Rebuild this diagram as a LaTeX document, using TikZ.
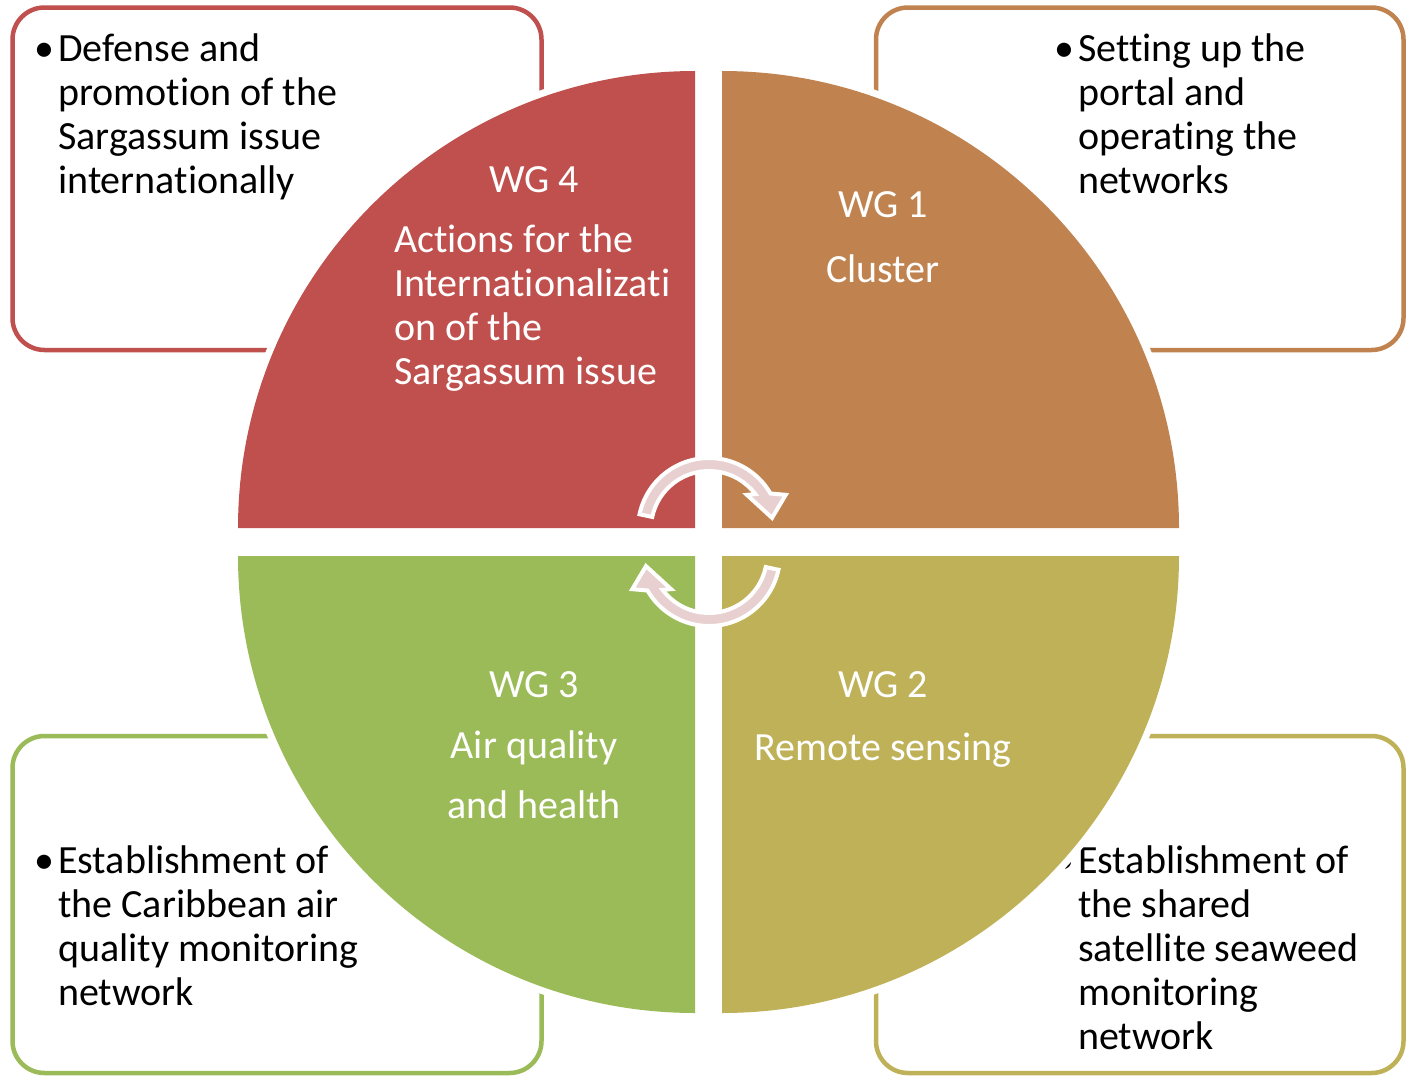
\documentclass[tikz,border=0pt]{standalone}
\usepackage{fontspec}
\setmainfont{Carlito}[Ligatures={NoCommon}]
\definecolor{cred}{HTML}{C0504D}
\definecolor{corange}{HTML}{C0834F}
\definecolor{colive}{HTML}{BFB158}
\definecolor{cgreen}{HTML}{9BBB59}
\definecolor{cpink}{HTML}{E8D0D1}
\tikzset{
  boxframe/.style={draw=#1, line width=4.5pt, rounded corners=32pt, fill=white},
  btext/.style={inner sep=0pt, anchor=base west, text=black, font=\fontsize{40}{44}\selectfont},
  bdot/.style={inner sep=0pt, anchor=base, text=black, font=\fontsize{40}{44}\selectfont},
  wtext/.style={inner sep=0pt, anchor=base, text=white, font=\fontsize{40}{44}\selectfont},
  wltext/.style={inner sep=0pt, anchor=base west, text=white, font=\fontsize{40}{44}\selectfont},
  backing/.style={fill=white},
  cycarrow/.style={fill=cpink, draw=white, line width=4pt, line join=miter}
}
\begin{document}
\begin{tikzpicture}[x=1pt,y=-1pt]
\useasboundingbox (0,0) rectangle (1408,1076);
\fill[white] (0,0) rectangle (1408,1076);
% corner boxes
\draw[boxframe=cred] (12.5,7.5) rectangle (541.5,350);
\draw[boxframe=corange] (876,7.5) rectangle (1403.5,350);
\draw[boxframe=cgreen] (12.5,736) rectangle (541.5,1073);
\draw[boxframe=colive] (876,736) rectangle (1403.5,1073);
% box texts
\node[bdot] (tlb) at (44,61) {•};
\node[btext] (tl1) at (58,61) {Defense and};
\node[btext] (tl2) at (58,105) {promotion of the};
\node[btext] (tl3) at (58,149) {Sargassum issue};
\node[btext] (tl4) at (58,193) {internationally};
\node[bdot] (trb) at (1064,61) {•};
\node[btext] (tr1) at (1078,61) {Setting up the};
\node[btext] (tr2) at (1078,105) {portal and};
\node[btext] (tr3) at (1078,149) {operating the};
\node[btext] (tr4) at (1078,193) {networks};
\node[bdot] (blb) at (44,873) {•};
\node[btext] (bl1) at (58,873) {Establishment of};
\node[btext] (bl2) at (58,917) {the Caribbean air};
\node[btext] (bl3) at (58,961) {quality monitoring};
\node[btext] (bl4) at (58,1005) {network};
\node[bdot] (brb) at (1064,873) {•};
\node[btext] (br1) at (1078,873) {Establishment of};
\node[btext] (br2) at (1078,917) {the shared};
\node[btext] (br3) at (1078,961) {satellite seaweed};
\node[btext] (br4) at (1078,1005) {monitoring};
\node[btext] (br5) at (1078,1049) {network};
% white backings for quadrants
\path[backing] (695,528) -- (231,528) arc[start angle=180,end angle=270,radius=464] -- cycle;
\path[backing] (722,528) -- (722,64) arc[start angle=270,end angle=360,radius=464] -- cycle;
\path[backing] (722,556) -- (1186,556) arc[start angle=0,end angle=90,radius=464] -- cycle;
\path[backing] (695,556) -- (695,1020) arc[start angle=90,end angle=180,radius=464] -- cycle;
% quadrants
\fill[cred] (695,528) -- (238,528) arc[start angle=180,end angle=270,radius=457] -- cycle;
\fill[corange] (722,528) -- (722,71) arc[start angle=270,end angle=360,radius=457] -- cycle;
\fill[colive] (722,556) -- (1179,556) arc[start angle=0,end angle=90,radius=457] -- cycle;
\fill[cgreen] (695,556) -- (695,1013) arc[start angle=90,end angle=180,radius=457] -- cycle;
% quadrant texts
\node[wtext] (q4a) at (534,192) {WG 4};
\node[wltext] (q4b) at (394,252) {Actions for the};
\node[wltext] (q4c) at (394,296) {Internationalizati};
\node[wltext] (q4d) at (394,340) {on of the};
\node[wltext] (q4e) at (394,384) {Sargassum issue};
\node[wtext] (q1a) at (883,217) {WG 1};
\node[wtext] (q1b) at (883,282) {Cluster};
\node[wtext] (q3a) at (534,697) {WG 3};
\node[wtext] (q3b) at (534,758) {Air quality};
\node[wtext] (q3c) at (534,818) {and health};
\node[wtext] (q2a) at (883,697) {WG 2};
\node[wtext] (q2b) at (883,760) {Remote sensing};
% cycle arrows
\begin{scope}[shift={(709,529)}]
\path[cycarrow] (-168:71) arc[start angle=-168,end angle=-30,radius=71] -- (-24:84) -- (-10:64) -- (-42:51) -- (-37:58) arc[start angle=-37,end angle=-168,radius=58] -- cycle;
\end{scope}
\begin{scope}[shift={(709,555)},rotate=180]
\path[cycarrow] (-168:71) arc[start angle=-168,end angle=-30,radius=71] -- (-24:84) -- (-10:64) -- (-42:51) -- (-37:58) arc[start angle=-37,end angle=-168,radius=58] -- cycle;
\end{scope}
\end{tikzpicture}
\end{document}
